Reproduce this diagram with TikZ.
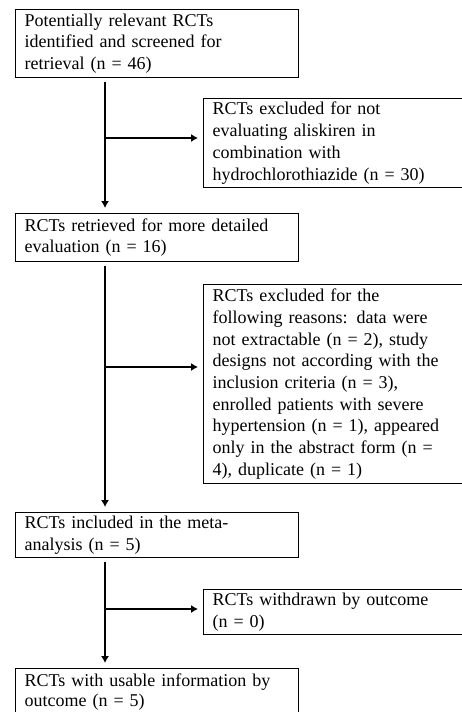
\documentclass[tikz,border=0pt]{standalone}
\usepackage{fontspec}
\setmainfont{Liberation Serif}
\usetikzlibrary{%
  arrows.meta,%
  calc%
}
\tikzset{>={Latex[length=7pt,width=8pt]}}
\tikzset{stagebox/.style = {draw, line width=1.2pt, anchor=north west,
	    align=left, inner xsep=9pt, text width=265pt,
	    font=\fontsize{18}{21.7}\selectfont},%
		sidebox/.style={stagebox, text width=252pt},
		flow/.style={->, line width=1.2pt, shorten >=5pt}}

\begin{document}
\begin{tikzpicture}[x=1pt, y=-1pt]
          \useasboundingbox[fill=white] (0,0) rectangle (461,712);
          \node[stagebox, minimum height=68pt] (ident) at (15,9)
          {Potentially relevant RCTs\\identified and screened for\\retrieval (n = 46)};
          \node[sidebox, minimum height=89pt] (notali) at (203,98)
          {RCTs excluded for not\\evaluating aliskiren in\\combination with\\hydrochlorothiazide (n = 30)};
          \node[stagebox, minimum height=48pt] (retr) at (15,213)
          {RCTs retrieved for more detailed\\evaluation (n = 16)};
          \node[sidebox, minimum height=199pt] (reasons) at (203,284)
          {RCTs excluded for the\\following reasons: data were\\not extractable (n = 2), study\\designs not according with the\\inclusion criteria (n = 3),\\enrolled patients with severe\\hypertension (n = 1), appeared\\only in the abstract form (n =\\4), duplicate (n = 1)};
          \node[stagebox, minimum height=45pt] (incl) at (15,512)
          {RCTs included in the meta-\\analysis (n = 5)};
          \node[sidebox, minimum height=44pt] (wdr) at (203,589)
          {RCTs withdrawn by outcome\\(n = 0)};
          \node[stagebox, inner ysep=5pt, font=\fontsize{18}{20.5}\selectfont] (usable) at (15,668)
          {RCTs with usable information by\\outcome (n = 5)};
          \coordinate (tr1) at (105,138);
          \coordinate (tr2) at (105,367);
          \coordinate (tr3) at (105,609);
          \draw[flow, shorten <=4pt] (ident.south -| tr1) -- (retr.north -| tr1);
          \draw[flow] (tr1) -- (tr1 -| notali.west);
          \draw[flow, shorten <=4pt] (retr.south -| tr2) -- (incl.north -| tr2);
          \draw[flow] (tr2) -- (tr2 -| reasons.west);
          \draw[flow, shorten <=4pt] (incl.south -| tr3) -- (usable.north -| tr3);
          \draw[flow] (tr3) -- (tr3 -| wdr.west);
        \end{tikzpicture}
\end{document}
